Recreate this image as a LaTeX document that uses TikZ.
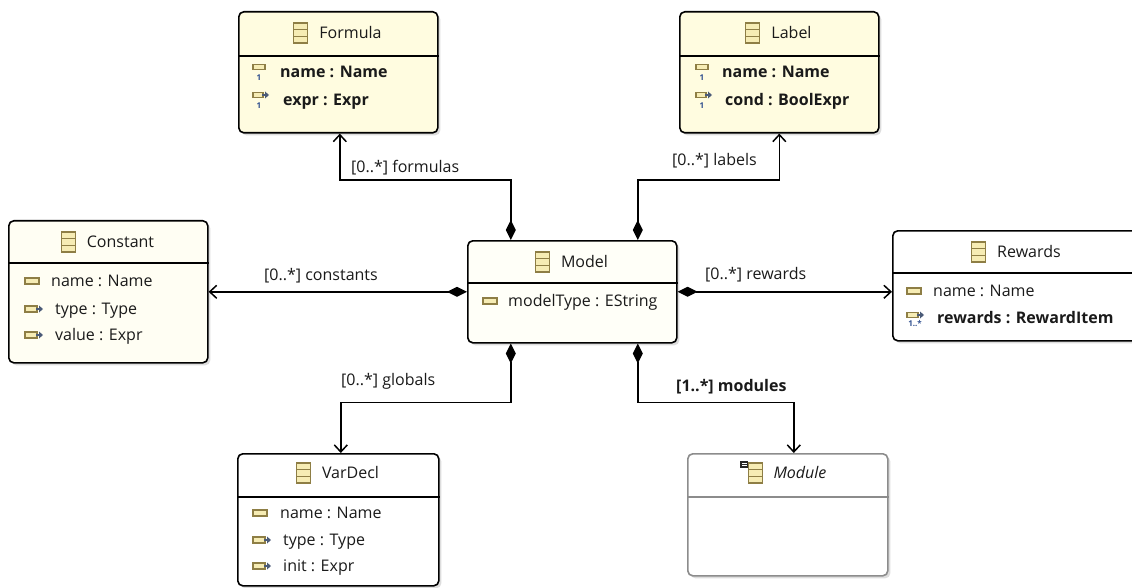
\documentclass[tikz,border=0pt]{standalone}
\usepackage{fontspec}
\setmainfont{Open Sans}
\usetikzlibrary{arrows.meta,shadows}
\definecolor{fyel}{HTML}{FFFCE0}
\definecolor{cyel}{HTML}{FFFEF3}
\definecolor{myel}{HTML}{FFFFF8}
\definecolor{icfill}{HTML}{F6ECB4}
\definecolor{icdraw}{HTML}{8E7E45}
\definecolor{icarrow}{HTML}{4B5B78}
\definecolor{multc}{HTML}{2F4F8F}
\definecolor{modgray}{HTML}{8C8C8C}
\definecolor{txt}{HTML}{1A1A1A}
\begin{document}
\begin{tikzpicture}[x=1pt,y=-1pt,
  font=\fontsize{16}{19}\selectfont, text=txt,
  umlbox/.style={draw=black, line width=1.6pt, rounded corners=5pt, inner sep=0pt, anchor=north west,
    drop shadow={shadow xshift=2.5pt, shadow yshift=-2.5pt, fill=black!60, opacity=0.22}},
  sepline/.style={line width=1.4pt},
  txtnode/.style={inner sep=0pt, text height=11.5pt, text depth=0pt},
  ttl/.style={txtnode, anchor=center},
  attr/.style={txtnode, anchor=west},
  lbl/.style={txtnode, anchor=west},
  conn/.style={line width=1.5pt},
  comp/.style={conn, {Diamond[length=20pt,width=10pt]}-{Straight Barb[length=7pt,width=13pt,line width=1.5pt]}},
  multn/.style={inner sep=0pt, font=\fontsize{8}{8}\selectfont\bfseries, text=multc},
  icline/.style={icdraw, line width=1.1pt},
  clsicon/.pic={
    \draw[icline, fill=icfill] (-7,-10) rectangle (7,10);
    \draw[icline] (-7,-3.3) -- (7,-3.3) (-7,3.3) -- (7,3.3);
  },
  absicon/.pic={
    \draw[icline, fill=icfill] (-4,-10) rectangle (10,10);
    \draw[icline] (-4,-3.3) -- (10,-3.3) (-4,3.3) -- (10,3.3);
    \fill[black!85] (-12,-12) rectangle (-4,-5);
    \fill[white] (-10.5,-10.5) rectangle (-5.5,-7.5);
    \draw[black!85, line width=0.8pt] (-10.5,-9) -- (-5.5,-9);
  },
  attricon/.pic={
    \draw[icline, fill=icfill] (-7,-3) rectangle (7,3);
  },
  reficon/.pic={
    \draw[icline, fill=icfill] (-7,-3) rectangle (5,3);
    \draw[icarrow, line width=1.2pt] (4,0) -- (8,0);
    \fill[icarrow] (7,-3.5) -- (11,0) -- (7,3.5) -- cycle;
  },
  attrone/.pic={
    \draw[icline, fill=icfill] (-6,-2.5) rectangle (6,2.5);
    \node[multn] (-m) at (0,11) {1};
  },
  refone/.pic={
    \draw[icline, fill=icfill] (-6,-2.5) rectangle (4,2.5);
    \draw[icarrow, line width=1.2pt] (3,0) -- (7,0);
    \fill[icarrow] (6,-3.5) -- (10,0) -- (6,3.5) -- cycle;
    \node[multn] (-m) at (0,11) {1};
  },
  refmany/.pic={
    \draw[icline, fill=icfill] (-8,-2.5) rectangle (3,2.5);
    \draw[icarrow, line width=1.2pt] (2,0) -- (6,0);
    \fill[icarrow] (5,-3.5) -- (9,0) -- (5,3.5) -- cycle;
    \node[multn] (-m) at (0,9) {1..*};
  },
]
\useasboundingbox (0,0) rectangle (1132,588);
\clip (0,0) rectangle (1132,588);
\fill[white] (0,0) rectangle (1132,588);

% ---------- boxes ----------
\node[umlbox, fill=fyel, minimum width=199pt, minimum height=121pt] (formula) at (238,11) {};
\node[umlbox, fill=fyel, minimum width=199pt, minimum height=121pt] (label) at (679,11) {};
\node[umlbox, fill=cyel, minimum width=199pt, minimum height=142pt] (constant) at (8,220) {};
\node[umlbox, fill=myel, minimum width=209pt, minimum height=102pt] (model) at (467,240) {};
\node[umlbox, fill=white, minimum width=250pt, minimum height=110pt] (rewards) at (892,230) {};
\node[umlbox, fill=white, minimum width=201pt, minimum height=132pt] (vardecl) at (237,453) {};
\node[umlbox, draw=modgray, fill=white, minimum width=200pt, minimum height=122pt] (module) at (687,453) {};

% ---------- separators ----------
\draw[sepline] ([yshift=-45pt]formula.north west) -- ([yshift=-45pt]formula.north east);
\draw[sepline] ([yshift=-45pt]label.north west) -- ([yshift=-45pt]label.north east);
\draw[sepline] ([yshift=-43pt]constant.north west) -- ([yshift=-43pt]constant.north east);
\draw[sepline] ([yshift=-43pt]model.north west) -- ([yshift=-43pt]model.north east);
\draw[sepline] ([yshift=-43pt]rewards.north west) -- ([yshift=-43pt]rewards.north east);
\draw[sepline] ([yshift=-44pt]vardecl.north west) -- ([yshift=-44pt]vardecl.north east);
\draw[sepline, modgray] ([yshift=-44pt]module.north west) -- ([yshift=-44pt]module.north east);

% ---------- titles ----------
\node[ttl] (formula-t) at (350.5,33) {Formula};
\pic at ([xshift=-18.5pt]formula-t.west) {clsicon};
\node[ttl] (label-t) at (791.5,33) {Label};
\pic at ([xshift=-18.5pt]label-t.west) {clsicon};
\node[ttl] (constant-t) at (120.5,242) {Constant};
\pic at ([xshift=-18.5pt]constant-t.west) {clsicon};
\node[ttl] (model-t) at (584.5,262) {Model};
\pic at ([xshift=-18.5pt]model-t.west) {clsicon};
\node[ttl] (rewards-t) at (1029,252) {Rewards};
\pic at ([xshift=-18.5pt]rewards-t.west) {clsicon};
\node[ttl] (vardecl-t) at (350.5,473) {VarDecl};
\pic at ([xshift=-18.5pt]vardecl-t.west) {clsicon};
\node[ttl, font=\fontsize{16}{19}\selectfont\itshape] (module-t) at (800,473) {Module};
\pic at ([xshift=-21pt]module-t.west) {absicon};

% ---------- attributes ----------
\pic (fa1) at (259,67) {attrone};
\node[attr] (formula-a1) at (280,72) {\bfseries name : Name};
\pic (fa2) at (259,95) {refone};
\node[attr] (formula-a2) at (283,100) {\bfseries expr : Expr};

\pic (la1) at (702,67) {attrone};
\node[attr] (label-a1) at (722,72) {\bfseries name : Name};
\pic (la2) at (702,95) {refone};
\node[attr] (label-a2) at (725,100) {\bfseries cond : BoolExpr};

\pic at (32,281) {attricon};
\node[attr] (constant-a1) at (51,281) {name : Name};
\pic at (32,309) {reficon};
\node[attr] (constant-a2) at (55,309) {type : Type};
\pic at (32,335) {reficon};
\node[attr] (constant-a3) at (55,335) {value : Expr};

\pic at (490,301) {attricon};
\node[attr] (model-a1) at (508,301) {modelType : EString};

\pic at (914,291) {attricon};
\node[attr] (rewards-a1) at (933,291) {name : Name};
\pic (ra2) at (915,315) {refmany};
\node[attr] (rewards-a2) at (937,318) {\bfseries rewards : RewardItem};

\pic at (260,513) {attricon};
\node[attr] (vardecl-a1) at (280,513) {name : Name};
\pic at (260,540) {reficon};
\node[attr] (vardecl-a2) at (283,540) {type : Type};
\pic at (260,566) {reficon};
\node[attr] (vardecl-a3) at (283,566) {init : Expr};

% ---------- connectors ----------
\draw[comp] ([xshift=-61.5pt]model.north) -- ++(0,-60) -| ([xshift=1.5pt]formula.south);
\draw[comp] ([xshift=65.5pt]model.north) -- ++(0,-60) -| (label.south);
\draw[comp] (model.west) -- (constant.east);
\draw[comp] (model.east) -- (model.east -| rewards.west);
\draw[comp] ([xshift=-61.5pt]model.south) -- ++(0,59) -| ([xshift=2.5pt]vardecl.north);
\draw[comp] ([xshift=65.5pt]model.south) -- ++(0,59) -| ([xshift=6pt]module.north);

% ---------- connector labels ----------
\node[lbl] (l-formulas) at (351,167) {[0..*] formulas};
\node[lbl, anchor=east] (l-labels) at (757,160) {[0..*] labels};
\node[lbl] (l-constants) at (264,275) {[0..*] constants};
\node[lbl] (l-rewards) at (705,274) {[0..*] rewards};
\node[lbl] (l-globals) at (341,380) {[0..*] globals};
\node[lbl] (l-modules) at (676,386) {\bfseries [1..*] modules};
\end{tikzpicture}
\end{document}
